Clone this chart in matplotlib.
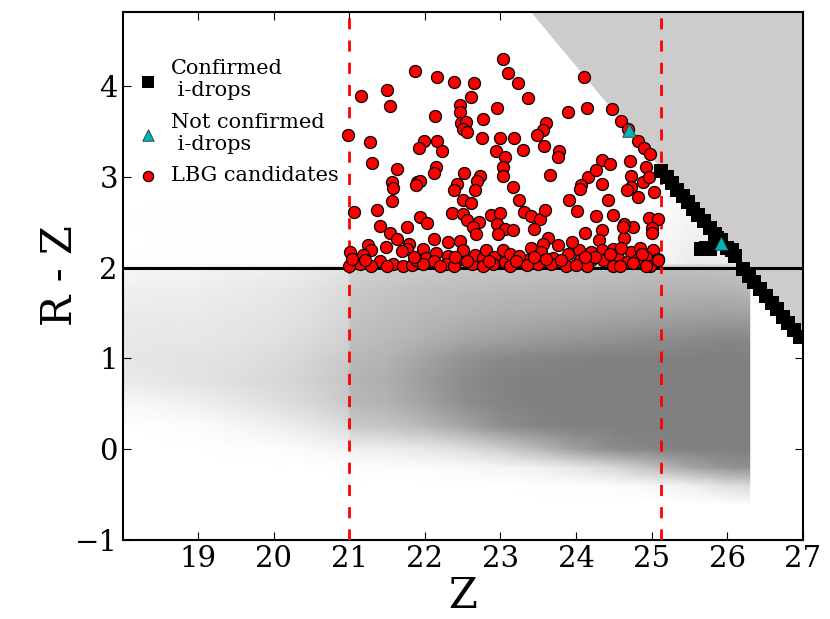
import numpy as np
import matplotlib
matplotlib.use('Agg')
import matplotlib.pyplot as plt
from matplotlib.colors import LinearSegmentedColormap

plt.rcParams['font.family'] = ['DejaVu Serif']
plt.rcParams['mathtext.fontset'] = 'dejavuserif'

# grey background cloud: estimated point density (0..1) on a grid of nodes
cloud_z = [18.0, 18.5, 19.0, 19.5, 20.0, 20.5, 20.98, 21.02, 21.5, 22.0,
           22.5, 23.0, 23.5, 24.0, 24.5, 25.0, 25.5, 26.0, 26.3]
cloud_rz = [-0.6, -0.4, -0.2, 0.0, 0.25, 0.5, 0.75, 1.0, 1.2, 1.5, 1.75, 2.0,
            2.05, 2.5, 3.0]
# one row per Z node, columns follow cloud_rz
cloud_density = [
    [0, 0, 0, 0, 0, 0.06, 0.16, 0.19, 0.18, 0.16, 0.12, 0.07, 0, 0, 0],
    [0, 0, 0, 0, 0.01, 0.08, 0.19, 0.21, 0.19, 0.17, 0.13, 0.08, 0.01, 0.01, 0],
    [0, 0, 0, 0, 0.03, 0.12, 0.22, 0.22, 0.19, 0.17, 0.14, 0.09, 0.01, 0.01, 0],
    [0, 0, 0, 0.01, 0.07, 0.18, 0.26, 0.24, 0.21, 0.19, 0.16, 0.11, 0.01, 0.01, 0],
    [0, 0, 0, 0.02, 0.11, 0.24, 0.30, 0.28, 0.24, 0.21, 0.18, 0.12, 0.01, 0.01, 0],
    [0, 0, 0, 0.05, 0.18, 0.32, 0.36, 0.33, 0.29, 0.25, 0.22, 0.16, 0.02, 0.01, 0],
    [0, 0, 0.01, 0.08, 0.28, 0.42, 0.45, 0.42, 0.36, 0.32, 0.29, 0.22, 0.02, 0.01, 0],
    [0, 0, 0.01, 0.12, 0.42, 0.55, 0.58, 0.55, 0.50, 0.46, 0.42, 0.35, 0.02, 0.01, 0],
    [0, 0, 0.02, 0.14, 0.46, 0.60, 0.64, 0.60, 0.55, 0.50, 0.46, 0.38, 0.02, 0.01, 0],
    [0, 0, 0.03, 0.18, 0.55, 0.72, 0.78, 0.72, 0.62, 0.55, 0.50, 0.42, 0.02, 0.01, 0],
    [0, 0, 0.05, 0.25, 0.70, 0.88, 0.90, 0.85, 0.70, 0.58, 0.52, 0.44, 0.02, 0.01, 0],
    [0, 0, 0.08, 0.38, 0.88, 0.96, 0.97, 0.92, 0.75, 0.62, 0.54, 0.46, 0.02, 0.01, 0],
    [0, 0.01, 0.12, 0.55, 0.96, 1, 1, 0.96, 0.80, 0.64, 0.56, 0.47, 0.02, 0.01, 0],
    [0, 0.02, 0.20, 0.75, 1, 1, 1, 0.98, 0.83, 0.66, 0.57, 0.48, 0.02, 0.01, 0],
    [0, 0.03, 0.32, 0.90, 1, 1, 1, 1, 0.86, 0.68, 0.58, 0.49, 0.02, 0.01, 0],
    [0, 0.06, 0.50, 0.96, 1, 1, 1, 1, 0.90, 0.70, 0.60, 0.50, 0.05, 0.02, 0],
    [0, 0.12, 0.70, 1, 1, 1, 1, 1, 0.92, 0.72, 0.60, 0.50, 0.15, 0.10, 0.02],
    [0.02, 0.25, 0.85, 1, 1, 1, 1, 1, 0.95, 0.74, 0.60, 0.48, 0.15, 0.10, 0.02],
    [0.03, 0.30, 0.88, 1, 1, 1, 1, 1, 0.95, 0.72, 0.56, 0.42, 0.10, 0.05, 0],
]

# LBG candidates
lbg_z = [21.87, 22.16, 22.38, 22.65, 23.03, 23.10, 21.15, 21.50, 21.54, 22.61,
         22.46, 22.47, 22.13, 22.77, 22.95, 22.48, 22.54, 22.50, 22.55, 20.98,
         21.27, 21.99, 21.92, 22.16, 22.23, 22.76, 23.00, 22.94, 23.06, 21.30,
         23.23, 23.37, 24.11, 23.90, 24.15, 24.47, 24.60, 23.60, 23.56, 23.49,
         23.18, 23.30, 23.58, 23.78, 23.76, 24.34, 24.72, 24.82, 24.90, 24.98,
         24.69, 21.63, 22.15, 22.12, 21.56, 21.58, 21.90, 21.94, 21.88, 22.52,
         22.73, 22.69, 22.42, 22.38, 22.66, 21.57, 22.51, 22.61, 23.03, 23.03,
         21.06, 21.37, 22.36, 22.51, 22.87, 22.99, 21.93, 22.03, 22.56, 22.71,
         21.40, 21.76, 22.64, 22.95, 23.06, 21.54, 22.68, 22.97, 21.63, 22.12,
         22.31, 22.47, 21.79, 21.48, 21.24, 21.76, 21.98, 21.28, 21.01, 21.18,
         21.69, 21.40, 21.14, 21.29, 21.00, 21.03, 21.58, 21.71, 21.83, 21.88,
         22.02, 22.15, 22.12, 22.31, 22.28, 22.44, 22.50, 22.62, 22.66, 22.77,
         22.81, 22.92, 22.90, 23.03, 23.06, 21.97, 22.39, 22.77, 22.20,
         23.66, 23.17, 23.25, 23.91, 24.01, 24.16, 24.27, 24.45, 24.35, 24.07,
         24.05, 24.42, 24.92, 24.73, 24.89, 24.73, 24.68, 24.82, 25.03, 24.97,
         24.96, 25.08, 25.00, 25.01, 24.76, 24.63, 24.63, 24.73, 24.85, 25.02,
         25.09, 24.93, 24.82, 24.98, 23.31, 23.41, 23.52, 23.59, 23.45, 23.16,
         24.27, 24.49, 24.62, 24.34, 24.12, 23.76, 23.63, 23.56, 23.40, 23.12,
         24.04, 24.31, 24.34, 24.20, 24.49, 23.90, 23.70, 23.54, 23.39, 23.25,
         23.67, 23.50, 24.05, 24.20, 24.36, 24.56, 24.67, 25.09, 23.87, 24.49,
         23.12, 24.14, 24.93, 23.95, 24.25, 24.45, 24.60, 23.80, 23.35, 23.60,
         24.75, 22.55, 21.50, 21.20, 22.85, 23.20, 24.00, 24.58, 21.85, 22.40,
         23.45, 24.12, 24.87]
lbg_rz = [4.17, 4.10, 4.05, 4.03, 4.30, 4.14, 3.89, 3.96, 3.78, 3.88,
          3.79, 3.72, 3.67, 3.64, 3.76, 3.59, 3.61, 3.53, 3.50, 3.46,
          3.38, 3.40, 3.32, 3.40, 3.29, 3.43, 3.43, 3.29, 3.22, 3.15,
          4.03, 3.87, 4.10, 3.71, 3.76, 3.75, 3.62, 3.59, 3.52, 3.46,
          3.43, 3.30, 3.34, 3.29, 3.22, 3.19, 3.18, 3.40, 3.32, 3.25,
          3.53, 3.09, 3.11, 3.04, 2.94, 2.88, 2.94, 2.95, 2.91, 3.04,
          3.01, 2.95, 2.92, 2.86, 2.86, 2.73, 2.75, 2.71, 3.11, 3.01,
          2.61, 2.64, 2.60, 2.59, 2.58, 2.60, 2.56, 2.49, 2.53, 2.50,
          2.46, 2.45, 2.45, 2.48, 2.43, 2.38, 2.37, 2.37, 2.31, 2.31,
          2.28, 2.29, 2.26, 2.23, 2.25, 2.20, 2.21, 2.19, 2.17, 2.14,
          2.18, 2.07, 2.04, 2.02, 2.02, 2.10, 2.04, 2.02, 2.03, 2.08,
          2.11, 2.16, 2.07, 2.13, 2.04, 2.08, 2.19, 2.04, 2.14, 2.11,
          2.19, 2.12, 2.04, 2.19, 2.06, 2.04, 2.02, 2.02, 2.02,
          3.02, 2.89, 2.75, 2.75, 2.62, 3.00, 3.08, 3.14, 2.92, 2.91,
          2.87, 2.75, 3.11, 3.01, 2.94, 2.89, 2.85, 2.78, 2.83, 3.00,
          2.55, 2.54, 2.44, 2.38, 2.45, 2.48, 2.33, 2.17, 2.22, 2.19,
          2.10, 2.12, 2.10, 2.02, 2.61, 2.57, 2.54, 2.64, 2.43, 2.41,
          2.57, 2.58, 2.45, 2.41, 2.38, 2.25, 2.33, 2.26, 2.22, 2.15,
          2.19, 2.30, 2.19, 2.17, 2.20, 2.15, 2.11, 2.17, 2.09, 2.13,
          2.04, 2.04, 2.08, 2.08, 2.08, 2.11, 2.06, 2.08, 2.02, 2.02,
          2.02, 2.02, 2.02, 2.28, 2.12, 2.15, 2.22, 2.08, 2.03, 2.10,
          2.05, 2.07, 2.02, 2.08, 2.07, 2.07, 2.03, 2.02, 2.12, 2.12,
          2.12, 2.12, 2.15]

# confirmed i-drops
conf_z = [25.13, 25.20, 25.27, 25.34, 25.41, 25.48, 25.55, 25.62, 25.70, 25.77,
          25.84, 25.66, 25.72, 25.78, 25.86, 25.92, 26.00, 26.06, 26.10,
          26.21, 26.29, 26.36, 26.44, 26.51, 26.59, 26.66, 26.74, 26.81, 26.89,
          26.96]
conf_rz = [3.07, 3.00, 2.93, 2.86, 2.79, 2.72, 2.65, 2.58, 2.51, 2.44,
           2.37, 2.20, 2.22, 2.20, 2.33, 2.30, 2.22, 2.19, 2.13,
           1.99, 1.91, 1.84, 1.76, 1.69, 1.61, 1.54, 1.46, 1.39, 1.31,
           1.24]

# not confirmed i-drops
notconf_z = [24.70, 25.92]
notconf_rz = [3.52, 2.27]

# magnitude limit (grey region) and selection cuts
limit_z = [23.0, 27.0]
limit_rz = [5.22, 1.22]
color_cut = 2.0
z_cuts = [21.0, 25.12]

fig = plt.figure(figsize=(8.3, 6.19), dpi=100)
ax = fig.add_axes([0.148, 0.128, 0.819, 0.853])

grey = LinearSegmentedColormap.from_list('cloud', ['white', '#808080'])
ax.pcolormesh(cloud_z, cloud_rz, np.array(cloud_density).T, cmap=grey,
              vmin=0, vmax=1, shading='gouraud', zorder=1, rasterized=True)

ax.fill_between(limit_z, limit_rz, [6, 6], color='#cccccc', lw=0, zorder=2)

ax.axhline(color_cut, color='black', lw=2.2, zorder=3)
for zc in z_cuts:
    ax.axvline(zc, color='red', lw=2.0, ls=(0, (4, 4)), zorder=3)

ax.scatter(conf_z, conf_rz, marker='s', s=110, c='black', lw=0, zorder=5,
           label='Confirmed\n i-drops')
ax.scatter(notconf_z, notconf_rz, marker='^', s=95, c='#00b5b5',
           edgecolors='#333333', lw=0.6, zorder=6,
           label='Not confirmed\n i-drops')
ax.scatter(lbg_z, lbg_rz, marker='o', s=75, c='red', edgecolors='black',
           lw=0.9, zorder=4, label='LBG candidates')

ax.set_xlim(18, 27)
ax.set_ylim(-1, 4.82)
ax.set_xticks([19, 20, 21, 22, 23, 24, 25, 26, 27])
ax.set_yticks([-1, 0, 1, 2, 3, 4])
ax.tick_params(direction='in', top=True, right=True, labelsize=21, length=6)
for sp in ax.spines.values():
    sp.set_linewidth(1.5)
ax.set_xlabel('Z', fontsize=30, labelpad=2)
ax.set_ylabel('R - Z', fontsize=30, labelpad=-4)

leg = ax.legend(loc='upper left', bbox_to_anchor=(0.0, 0.926), frameon=False,
                fontsize=15, scatterpoints=1, markerscale=0.85,
                handlelength=1.6, handletextpad=0.3, labelspacing=0.6,
                borderpad=0.4, borderaxespad=0.0)

fig.savefig('out.png', dpi=100)
